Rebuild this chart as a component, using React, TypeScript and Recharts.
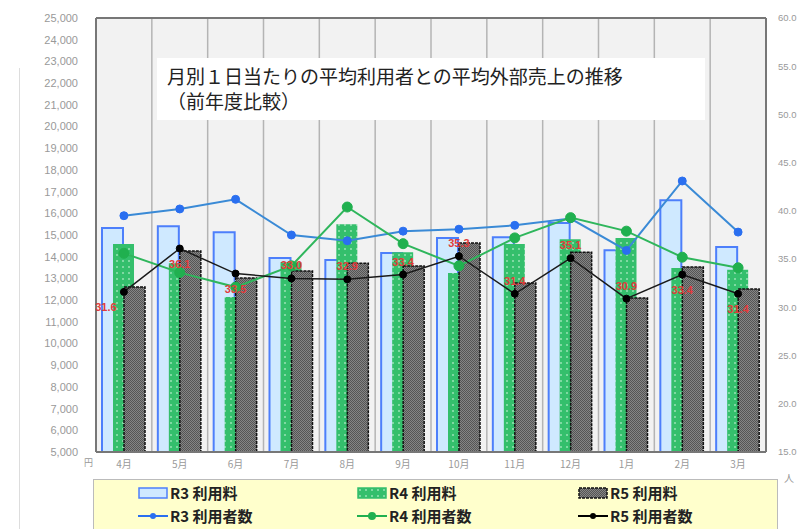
import React from "react";
import {
  ComposedChart,
  Bar,
  Line,
  XAxis,
  YAxis,
  CartesianGrid,
  ReferenceLine,
  LabelList,
} from "recharts";

const MONTHS = ["4月", "5月", "6月", "7月", "8月", "9月", "10月", "11月", "12月", "1月", "2月", "3月"];

// 利用料 (円, left axis)
const R3_FEE = [15320, 15400, 15130, 13940, 13850, 14170, 14860, 14900, 15550, 14300, 16600, 14450];
const R4_FEE = [14580, 13700, 12140, 13750, 15500, 14200, 13250, 14580, 14800, 14860, 13480, 13400];
const R5_FEE = [12600, 14260, 13020, 13340, 13700, 13570, 14630, 12790, 14200, 12100, 13530, 12510];

// 利用者数 (人, right axis)
const R3_USERS = [39.5, 40.2, 41.2, 37.5, 36.9, 37.9, 38.1, 38.5, 39.2, 35.9, 43.1, 37.8];
const R4_USERS = [35.6, 33.6, 32.1, 34.3, 40.4, 36.6, 34.3, 37.2, 39.3, 37.9, 35.2, 34.1];
const R5_USERS = [31.6, 36.1, 33.5, 33.0, 32.9, 33.4, 35.3, 31.4, 35.1, 30.9, 33.4, 31.4];

const FEE_TICKS = [5000, 6000, 7000, 8000, 9000, 10000, 11000, 12000, 13000, 14000, 15000, 16000, 17000, 18000, 19000, 20000, 21000, 22000, 23000, 24000, 25000];
const USER_TICKS = [15, 20, 25, 30, 35, 40, 45, 50, 55, 60];

// where each R5 label sits relative to its point
const LABEL_SIDE = ["below", "below", "below", "above", "above", "above", "above", "above", "above", "above", "below", "below"];

const TITLE_1 = "月別１日当たりの平均利用者との平均外部売上の推移";
const TITLE_2 = "（前年度比較）";

const data = MONTHS.map((m, i) => ({
  month: m,
  r3Fee: R3_FEE[i],
  r4Fee: R4_FEE[i],
  r5Fee: R5_FEE[i],
  r3Users: R3_USERS[i],
  r4Users: R4_USERS[i],
  r5Users: R5_USERS[i],
}));

const JP = "'Noto Sans CJK JP', 'Noto Sans', sans-serif";
const SANS = "'Liberation Sans', Arial, sans-serif";
const AXIS = "#777";

const R5Label = (props: any) => {
  const { x, y, value, index } = props;
  const below = LABEL_SIDE[index] === "below";
  return (
    <text
      x={index === 0 ? x - 18 : x}
      y={below ? y + 19 : y - 9}
      textAnchor="middle"
      fill="#e23b3b"
      fontSize={11}
      fontWeight="bold"
      fontFamily={SANS}
    >
      {Number(value).toFixed(1)}
    </text>
  );
};

const BarIcon = ({ fill, stroke, dash }: { fill: string; stroke: string; dash?: string }) => (
  <svg width={30} height={12} style={{ verticalAlign: "middle" }}>
    <rect x={1} y={1} width={28} height={10} fill={fill} stroke={stroke} strokeWidth={1.5} strokeDasharray={dash} />
  </svg>
);

const LineIcon = ({ color, r }: { color: string; r: number }) => (
  <svg width={30} height={12} style={{ verticalAlign: "middle" }}>
    <line x1={0} y1={6} x2={30} y2={6} stroke={color} strokeWidth={2} />
    <circle cx={15} cy={6} r={r} fill={color} />
  </svg>
);

const legendItem = (icon: React.ReactNode, label: string, left: number, top: number) => (
  <div style={{ position: "absolute", left, top, display: "flex", alignItems: "center", whiteSpace: "nowrap" }}>
    {icon}
    <span style={{ marginLeft: 2, fontSize: 15, fontWeight: "bold", color: "#222", fontFamily: JP }}>{label}</span>
  </div>
);

export default function App() {
  return (
    <div style={{ position: "absolute", left: 0, top: 0, width: 797, height: 529, overflow: "hidden", background: "#fff" }}>
      <svg width={0} height={0} style={{ position: "absolute" }}>
        <defs>
          <pattern id="greenDots" width={6} height={6} patternUnits="userSpaceOnUse">
            <rect width={6} height={6} fill="#34bf6c" />
            <rect x={2} y={2} width={2} height={2} fill="#7fd9a2" />
          </pattern>
          <pattern id="grayHatch" width={2} height={2} patternUnits="userSpaceOnUse">
            <rect width={2} height={2} fill="#858585" />
            <rect width={1} height={1} fill="#555" />
            <rect x={1} y={1} width={1} height={1} fill="#555" />
          </pattern>
        </defs>
      </svg>
      <div style={{ position: "absolute", left: 19, top: 68, width: 1, height: 461, background: "#ddd" }} />
      <ComposedChart
        width={797}
        height={529}
        data={data}
        margin={{ top: 18, right: 0, bottom: 57, left: 0 }}
        barSize={21}
        barGap={-10}
      >
        <CartesianGrid
          yAxisId="fee"
          fill="#f2f2f2"
          horizontal={false}
          stroke="#b4b4b4"
          strokeWidth={1.5}
          verticalCoordinatesGenerator={({ offset }: any) =>
            MONTHS.slice(1).map((_, i) => offset.left + ((i + 1) * offset.width) / MONTHS.length)
          }
        />
        <XAxis
          dataKey="month"
          height={20}
          interval={0}
          tickLine={false}
          axisLine={{ stroke: AXIS, strokeWidth: 2 }}
          tick={{ fontSize: 10, fill: "#999", fontFamily: JP }}
          tickMargin={3}
        />
        <YAxis
          yAxisId="fee"
          width={96}
          domain={[5000, 25000]}
          ticks={FEE_TICKS}
          interval={0}
          tickLine={false}
          tickMargin={12}
          axisLine={{ stroke: AXIS, strokeWidth: 2 }}
          tickFormatter={(v: number) => v.toLocaleString("en-US")}
          tick={{ fontSize: 11, fill: "#999", fontFamily: SANS }}
        />
        <YAxis
          yAxisId="users"
          orientation="right"
          width={31}
          domain={[15, 60]}
          ticks={USER_TICKS}
          interval={0}
          tickLine={false}
          tickMargin={6}
          axisLine={{ stroke: AXIS, strokeWidth: 2 }}
          tickFormatter={(v: number) => v.toFixed(1)}
          tick={{ fontSize: 9.5, fill: "#999", fontFamily: SANS }}
        />
        <ReferenceLine yAxisId="fee" y={25000} stroke={AXIS} strokeWidth={2} />
        <Bar yAxisId="fee" dataKey="r3Fee" name="R3 利用料" fill="#cfe9ff" stroke="#4d7ffb" strokeWidth={2} isAnimationActive={false} />
        <Bar yAxisId="fee" dataKey="r4Fee" name="R4 利用料" fill="url(#greenDots)" isAnimationActive={false} />
        <Bar yAxisId="fee" dataKey="r5Fee" name="R5 利用料" fill="url(#grayHatch)" stroke="#111" strokeWidth={1.5} strokeDasharray="3 1" isAnimationActive={false} />
        <Line
          yAxisId="users"
          dataKey="r3Users"
          name="R3 利用者数"
          stroke="#3a8ad6"
          strokeWidth={2}
          dot={{ r: 4, fill: "#2a6ff0", stroke: "#2a6ff0", strokeWidth: 1 }}
          isAnimationActive={false}
        />
        <Line
          yAxisId="users"
          dataKey="r4Users"
          name="R4 利用者数"
          stroke="#2fb65c"
          strokeWidth={2}
          dot={{ r: 5, fill: "#20b04f", stroke: "#20b04f", strokeWidth: 1 }}
          isAnimationActive={false}
        />
        <Line
          yAxisId="users"
          dataKey="r5Users"
          name="R5 利用者数"
          stroke="#1a1a1a"
          strokeWidth={1.5}
          dot={{ r: 3.5, fill: "#000", stroke: "#000", strokeWidth: 1 }}
          isAnimationActive={false}
        >
          <LabelList dataKey="r5Users" content={<R5Label />} />
        </Line>
      </ComposedChart>

      <div
        style={{
          position: "absolute",
          left: 157,
          top: 58,
          width: 548,
          height: 62,
          background: "#fff",
          fontFamily: JP,
          color: "#222",
          fontSize: 19,
          lineHeight: "25px",
        }}
      >
        <div style={{ position: "absolute", left: 10, top: 5, whiteSpace: "nowrap" }}>{TITLE_1}</div>
        <div style={{ position: "absolute", left: 10, top: 30, whiteSpace: "nowrap" }}>{TITLE_2}</div>
      </div>

      <div style={{ position: "absolute", left: 84, top: 456, fontSize: 9, color: "#999", fontFamily: JP }}>円</div>
      <div style={{ position: "absolute", left: 784, top: 470, fontSize: 10, color: "#999", fontFamily: JP }}>人</div>

      <div
        style={{
          position: "absolute",
          left: 93,
          top: 479,
          width: 683,
          height: 60,
          background: "#ffffcc",
          border: "1.5px solid #bbb",
        }}
      />
      {legendItem(<BarIcon fill="#cfe9ff" stroke="#4d7ffb" />, "R3 利用料", 138, 482)}
      {legendItem(<BarIcon fill="url(#greenDots)" stroke="#34bf6c" />, "R4 利用料", 357, 482)}
      {legendItem(<BarIcon fill="url(#grayHatch)" stroke="#111" dash="3 1" />, "R5 利用料", 578, 482)}
      {legendItem(<LineIcon color="#2a6ff0" r={3} />, "R3 利用者数", 138, 505)}
      {legendItem(<LineIcon color="#20b04f" r={4} />, "R4 利用者数", 357, 505)}
      {legendItem(<LineIcon color="#000" r={3} />, "R5 利用者数", 578, 505)}
    </div>
  );
}
